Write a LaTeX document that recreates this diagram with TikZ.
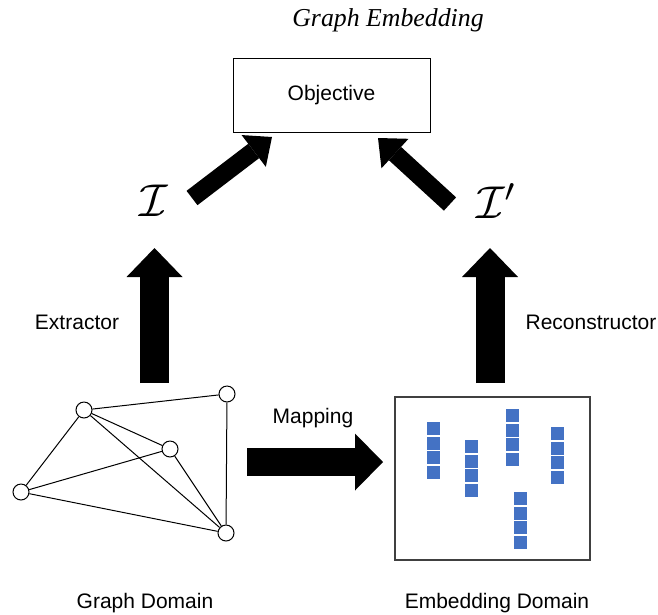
\documentclass[tikz,border=0pt]{standalone}
\usepackage{fontspec}
\setmainfont{Liberation Sans}
\newfontfamily\titlefont{Liberation Serif}
\usetikzlibrary{arrows.meta}
\definecolor{cellblue}{HTML}{4472C4}
\tikzset{
  vertex/.style={
    circle,
    fill=white,
    draw=black,
    line width=1pt,
    minimum size=16pt,
    inner sep=0pt,
  },
  caption/.style={
    font=\fontsize{21}{25}\selectfont,
    anchor=base,
    inner sep=0pt,
  },
  cell/.style={
    rectangle,
    fill=cellblue,
    minimum size=13pt,
    inner sep=0pt,
  },
  fat arrow/.style={
    line width=29pt,
    -{Triangle[width=56pt, length=29pt, line width=0pt]},
  },
  slim arrow/.style={
    line width=18pt,
    -{Triangle[width=40pt, length=23pt, line width=0pt]},
  },
}

\begin{document}
\begin{tikzpicture}[x=1pt, y=-1pt]
  \useasboundingbox (0, 0) rectangle (658, 614);

  \node[anchor=base, inner sep=0pt, font=\titlefont\itshape\fontsize{25.8}{30}\selectfont]
    (title) at (388, 26) {Graph Embedding};
  \node[draw=black, line width=1pt, minimum width=197pt, minimum height=74pt,
    font=\fontsize{21}{25}\selectfont] (objective) at (331.5, 95) {Objective};

  \node[scale=4.6] (info) at (154, 201) {$\mathcal{I}$};
  \node[scale=4.6] (infoprime) at (497, 201) {$\mathcal{I}'$};

  % arrows towards the objective
  \coordinate (infotail) at (192, 198);
  \coordinate (infotip) at (272, 137);
  \coordinate (primetail) at (450, 204);
  \coordinate (primetip) at (378, 138);
  \draw[slim arrow] (infotail) -- (infotip);
  \draw[slim arrow] (primetail) -- (primetip);

  % extractor and reconstructor
  \coordinate (extbase) at (154.5, 383);
  \coordinate (exttip) at (154.5, 248);
  \coordinate (recbase) at (490, 383);
  \coordinate (rectip) at (490, 248);
  \draw[fat arrow] (extbase) -- (exttip);
  \draw[fat arrow] (recbase) -- (rectip);
  \node[caption] (extractor) at (77, 329) {Extractor};
  \node[caption] (reconstructor) at (591, 329) {Reconstructor};

  % mapping
  \coordinate (maptail) at (247, 462);
  \coordinate (maptip) at (383, 462);
  \draw[line width=28pt, -{Triangle[width=57pt, length=28pt, line width=0pt]}]
    (maptail) -- (maptip);
  \node[caption] (mapping) at (313, 423) {Mapping};

  % graph domain
  \node[vertex] (v1) at (84, 410) {};
  \node[vertex] (v2) at (227, 394) {};
  \node[vertex] (v3) at (170, 449) {};
  \node[vertex] (v4) at (21, 492) {};
  \node[vertex] (v5) at (226, 533) {};
  \foreach \from/\to in {v1/v2, v1/v3, v1/v4, v1/v5, v2/v5, v3/v4, v3/v5, v4/v5}
    \draw[line width=1pt] (\from) -- (\to);
  \node[caption] (graphdomain) at (145, 608) {Graph Domain};

  % embedding domain
  \node[draw=black!75, line width=1.5pt, minimum width=195pt, minimum height=163pt]
    (embedding) at (492.5, 478.5) {};
  \foreach \x/\y in {
    433.5/428.5,
    471.5/446.5,
    512.5/415.5,
    557.5/433.5,
    520/498.5
  }
    \foreach \k in {0, ..., 3}
      \node[cell] at (\x, \y + 14.6*\k) {};
  \node[caption] (embeddingdomain) at (497, 608) {Embedding Domain};

\end{tikzpicture}
\end{document}
